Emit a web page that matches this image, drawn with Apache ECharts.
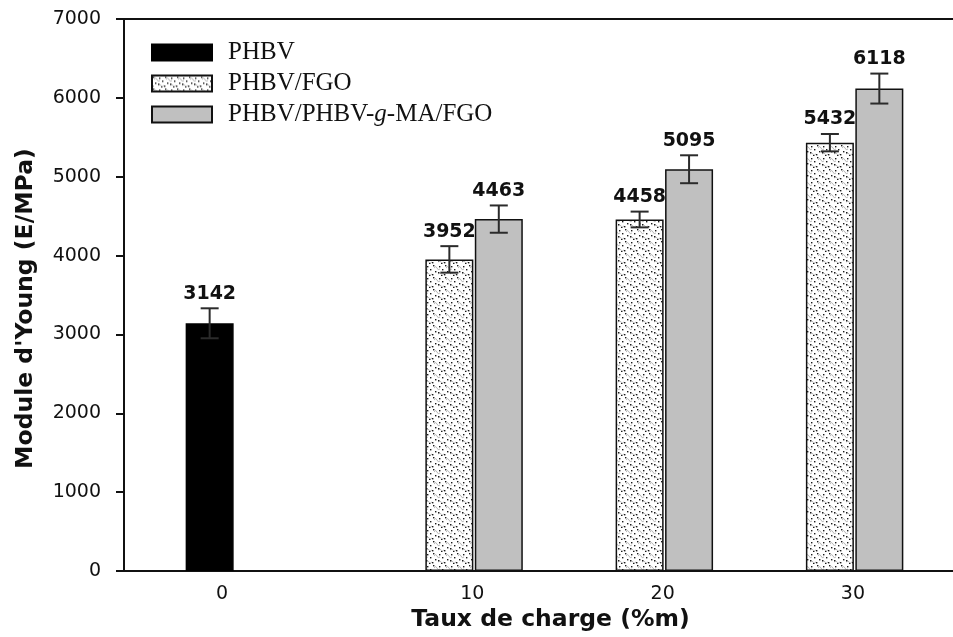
<!DOCTYPE html>
<html>
<head>
<meta charset="utf-8">
<script src="https://cdn.jsdelivr.net/npm/echarts@6/dist/echarts.min.js"></script>
<style>html,body{margin:0;padding:0;background:#fff;}#c{width:953px;height:637px;}</style>
</head>
<body>
<div id="c"></div>
<script>
// ---- data ----
const loads = [0, 10, 20, 30];
const seriesNames = ['PHBV', 'PHBV/FGO', 'PHBV/PHBV-g-MA/FGO'];
const phbv    = [3142, null, null, null];
const phbvErr = [190, null, null, null];
const fgo     = [null, 3952, 4458, 5432];
const fgoErr  = [null, 168, 100, 110];
const ma      = [null, 4463, 5095, 6118];
const maErr   = [null, 173, 177, 190];
const yTicks  = [0, 1000, 2000, 3000, 4000, 5000, 6000, 7000];

// ---- styles ----
const SANS = 'DejaVu Sans';
const BAR_W = 48;
const GAP_FRAC = 0.03;
const STEP = BAR_W * (1 + GAP_FRAC);
const X_MIN = -7.1, X_MAX = 36.47;

function makePattern() {
  const c = document.createElement('canvas');
  c.width = 12; c.height = 12;
  const g = c.getContext('2d');
  g.fillStyle = '#ffffff'; g.fillRect(0, 0, 12, 12);
  g.strokeStyle = '#b0b0b0'; g.lineWidth = 0.9;
  g.beginPath();
  g.moveTo(2, 4); g.quadraticCurveTo(4, 1, 5, 4); g.quadraticCurveTo(6, 7, 8, 5);
  g.moveTo(6, 10); g.quadraticCurveTo(8, 8, 9, 10); g.quadraticCurveTo(10, 12, 12, 10);
  g.stroke();
  g.fillStyle = '#1a1a1a';
  [[1, 1], [7, 2], [10, 5], [3, 7], [0, 10], [6, 8], [9, 11]].forEach(p => g.fillRect(p[0], p[1], 1.4, 1.4));
  return c;
}

function pairs(vals) {
  const out = [];
  vals.forEach((v, i) => { if (v != null) out.push([loads[i], v]); });
  return out;
}
function errRows(vals, errs, slot) {
  const out = [];
  vals.forEach((v, i) => { if (v != null) out.push([loads[i], v, errs[i], slot]); });
  return out;
}

const chart = echarts.init(document.getElementById('c'), null, {renderer: 'canvas'});

const option = {
  animation: false,
  backgroundColor: '#fff',
  grid: {left: 124, right: 0, top: 19, bottom: 65},
  legend: {
    orient: 'vertical', left: 151, top: 40, padding: 0, itemGap: 6,
    itemWidth: 60, itemHeight: 16, icon: 'rect',
    data: seriesNames,
    formatter: function (n) {
      if (n === seriesNames[2]) return '{n|PHBV/PHBV-}{i|g}{n|-MA/FGO}';
      return '{n|' + n + '}';
    },
    textStyle: {
      fontFamily: 'Liberation Serif', fontSize: 25, color: '#111', padding: [0, 0, 0, 11],
      rich: {
        n: {fontFamily: 'Liberation Serif', fontSize: 25, color: '#111'},
        i: {fontFamily: 'Liberation Serif', fontStyle: 'italic', fontSize: 25, color: '#111'}
      }
    }
  },
  xAxis: [
    {
      type: 'value', min: X_MIN, max: X_MAX, position: 'bottom',
      axisLine: {show: true, onZero: false, lineStyle: {color: '#111', width: 2}},
      axisTick: {show: false},
      splitLine: {show: false},
      axisLabel: {
        customValues: loads,
        margin: 13,
        formatter: function (v) { return v === 0 ? '{z|0}' : '{n|' + v + '}'; },
        rich: {
          z: {fontFamily: SANS, fontSize: 19, color: '#111', padding: [0, 74, 0, 0]},
          n: {fontFamily: SANS, fontSize: 19, color: '#111', padding: [0, 0, 0, 46]}
        }
      },
      name: 'Taux de charge (%m)',
      nameLocation: 'middle', nameGap: 31,
      nameTextStyle: {fontFamily: SANS, fontWeight: 'bold', fontSize: 23.5, color: '#111', padding: [0, 0, 0, 24]}
    },
    {
      type: 'value', min: X_MIN, max: X_MAX, position: 'top',
      axisLine: {show: true, onZero: false, lineStyle: {color: '#111', width: 2}},
      axisTick: {show: false}, axisLabel: {show: false}, splitLine: {show: false}
    }
  ],
  yAxis: {
    type: 'value', min: yTicks[0], max: yTicks[yTicks.length - 1], interval: 1000,
    axisLine: {show: true, onZero: false, lineStyle: {color: '#111', width: 2}},
    axisTick: {show: true, inside: false, length: 8, lineStyle: {color: '#111', width: 2}},
    splitLine: {show: false},
    axisLabel: {fontFamily: SANS, fontSize: 19, color: '#111', margin: 23, formatter: function (v) { return String(v); }},
    name: "Module d'Young (E/MPa)",
    nameLocation: 'middle', nameGap: 86,
    nameTextStyle: {fontFamily: SANS, fontWeight: 'bold', fontSize: 23.5, color: '#111', padding: [0, 27, 0, 0]}
  },
  series: [
    {
      name: seriesNames[0], type: 'bar', barWidth: BAR_W, barGap: (GAP_FRAC * 100) + '%',
      data: pairs(phbv),
      itemStyle: {color: '#000', borderColor: '#000', borderWidth: 1.5}
    },
    {
      name: seriesNames[1], type: 'bar', barWidth: BAR_W, barGap: (GAP_FRAC * 100) + '%',
      data: pairs(fgo),
      itemStyle: {color: {image: makePattern(), repeat: 'repeat'}, borderColor: '#111', borderWidth: 1.5}
    },
    {
      name: seriesNames[2], type: 'bar', barWidth: BAR_W, barGap: (GAP_FRAC * 100) + '%',
      data: pairs(ma),
      itemStyle: {color: '#c0c0c0', borderColor: '#111', borderWidth: 1.5}
    },
    {
      type: 'custom', z: 10, silent: true,
      data: [].concat(errRows(phbv, phbvErr, 0), errRows(fgo, fgoErr, 1), errRows(ma, maErr, 2)),
      renderItem: function (params, api) {
        const x = api.value(0), v = api.value(1), e = api.value(2), slot = api.value(3);
        const top = api.coord([x, v + e]);
        const bot = api.coord([x, v - e]);
        const cx = top[0] + (slot - 1) * STEP;
        const hw = 9;
        const ls = {stroke: '#2b2b2b', lineWidth: 2};
        return {
          type: 'group',
          children: [
            {type: 'line', shape: {x1: cx, y1: top[1], x2: cx, y2: bot[1]}, style: ls},
            {type: 'line', shape: {x1: cx - hw, y1: top[1], x2: cx + hw, y2: top[1]}, style: ls},
            {type: 'line', shape: {x1: cx - hw, y1: bot[1], x2: cx + hw, y2: bot[1]}, style: ls},
            {type: 'text', style: {x: cx, y: top[1] - 5, text: String(v), align: 'center', verticalAlign: 'bottom',
              font: 'bold 19px "DejaVu Sans"', fill: '#111'}}
          ]
        };
      }
    }
  ]
};
chart.setOption(option);
</script>
</body>
</html>
